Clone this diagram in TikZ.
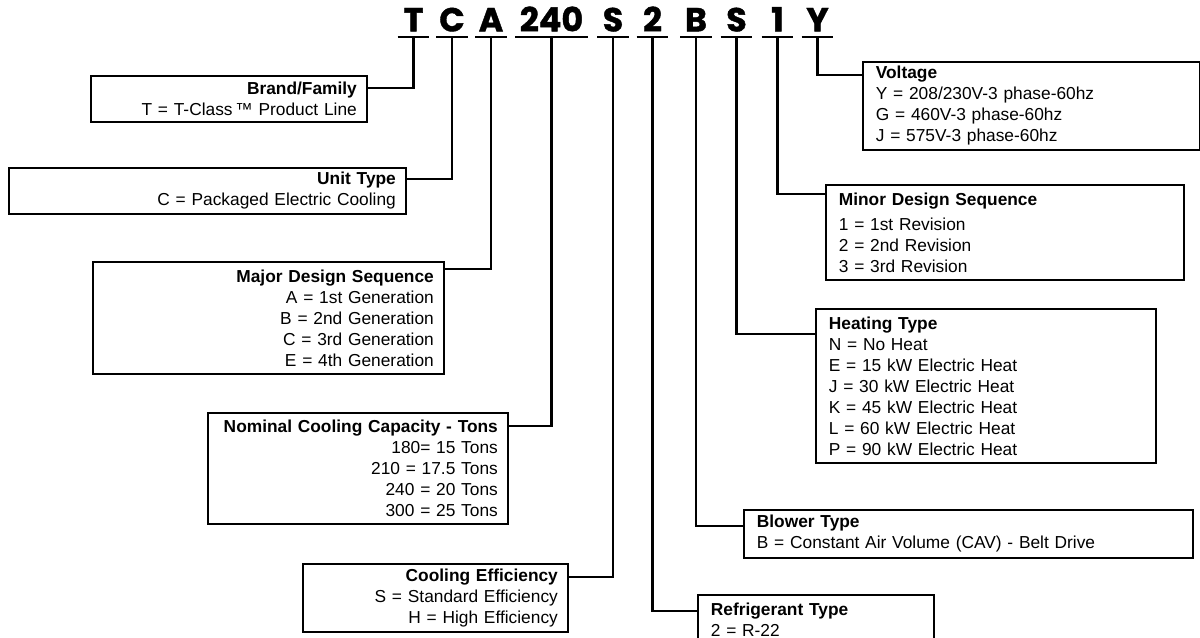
\documentclass[tikz,border=0pt]{standalone}
\usepackage{fontspec}
\setmainfont{Liberation Sans}
\newfontfamily\codefont{Poppins}[BoldFeatures={FakeBold=1.2}]
\begin{document}
\begin{tikzpicture}[x=0.75pt, y=-0.75pt,
    codechar/.style={font=\codefont\bfseries\fontsize{25}{25}\selectfont, anchor=south,
      inner xsep=0pt, inner ysep=4pt, text depth=0pt, minimum width=23.25pt},
    keybox/.style={draw, line width=1.3pt, anchor=north west, inner ysep=1pt,
      font=\fontsize{13}{15.75}\selectfont},
    leftkey/.style={keybox, align=right, inner xsep=7.5pt},
    rightkey/.style={keybox, align=left, inner xsep=9.75pt},
    leader/.style={line width=1.6pt},
    bar/.style={line width=2pt}]
      \useasboundingbox (0,0) rectangle (1200,638);
      % model number
      \node (cT)[codechar] at (413.5,37) {T};
      \node (cC)[codechar] at (452,37) {C};
      \node (cA)[codechar] at (491,37) {A};
      \node (c240)[codechar, minimum width=54pt] at (551.5,37) {240};
      \node (cS)[codechar] at (613,37) {S};
      \node (c2)[codechar] at (652.5,37) {2};
      \node (cB)[codechar] at (696,37) {B};
      \node (cH)[codechar] at (736.5,37) {S};
      \node (c1)[codechar] at (777.5,37) {1};
      \node (cY)[codechar] at (817.5,37) {Y};
      \draw[bar] (cT.south west) -- (cT.south east);
      \draw[bar] (cC.south west) -- (cC.south east);
      \draw[bar] (cA.south west) -- (cA.south east);
      \draw[bar] (c240.south west) -- (c240.south east);
      \draw[bar] (cS.south west) -- (cS.south east);
      \draw[bar] (c2.south west) -- (c2.south east);
      \draw[bar] (cB.south west) -- (cB.south east);
      \draw[bar] (cH.south west) -- (cH.south east);
      \draw[bar] (c1.south west) -- (c1.south east);
      \draw[bar] (cY.south west) -- (cY.south east);
      % left keys
      \node (brand)[leftkey, minimum width=207pt, minimum height=34.5pt, text width=192pt] at (90,75)
        {\textbf{Brand/Family}\\T = T-Class\,\texttrademark\ Product Line};
      \node (unit)[leftkey, minimum width=297.75pt, minimum height=34.5pt, text width=282.75pt] at (8,167)
        {\textbf{Unit Type}\\C = Packaged Electric Cooling};
      \node (major)[leftkey, minimum width=263.25pt, minimum height=84pt, text width=248.25pt] at (92,261)
        {\textbf{Major Design Sequence}\\A = 1st Generation\\B = 2nd Generation\\C = 3rd Generation\\E = 4th Generation};
      \node (tons)[leftkey, minimum width=225pt, minimum height=83.25pt, text width=210pt] at (207,412)
        {\textbf{Nominal Cooling Capacity - Tons}\\180= 15 Tons\\210 = 17.5 Tons\\240 = 20 Tons\\300 = 25 Tons};
      \node (eff)[leftkey, minimum width=198.75pt, minimum height=51pt, text width=183.75pt] at (302,563)
        {\textbf{Cooling Efficiency}\\S = Standard Efficiency\\H = High Efficiency};
      % right keys
      \node (refr)[rightkey, minimum width=177pt, minimum height=36.75pt, text width=157.5pt] at (697,594)
        {\textbf{Refrigerant Type}\\2 = R-22};
      \node (blower)[rightkey, minimum width=336.75pt, minimum height=36pt, text width=317.25pt] at (743,509)
        {\textbf{Blower Type}\\B = Constant Air Volume (CAV) - Belt Drive};
      \node (heat)[rightkey, minimum width=255pt, minimum height=115.5pt, text width=235.5pt] at (815,308)
        {\textbf{Heating Type}\\N = No Heat\\E = 15 kW Electric Heat\\J = 30 kW Electric Heat\\K = 45 kW Electric Heat\\L = 60 kW Electric Heat\\P = 90 kW Electric Heat};
      \node (minor)[rightkey, minimum width=268.5pt, minimum height=71.25pt, text width=249pt] at (825,184)
        {\textbf{Minor Design Sequence}\\[3pt]1 = 1st Revision\\2 = 2nd Revision\\3 = 3rd Revision};
      \node (volt)[rightkey, minimum width=252.75pt, minimum height=66pt, text width=233.25pt] at (862,61)
        {\textbf{Voltage}\\Y = 208/230V-3 phase-60hz\\G = 460V-3 phase-60hz\\J = 575V-3 phase-60hz};
      % leaders
      \draw[leader] (cT.south) |- (brand.east |- 0,88);
      \draw[leader] (cC.south) |- (unit.east |- 0,179);
      \draw[leader] (cA.south) |- (major.east |- 0,269);
      \draw[leader] (c240.south) |- (tons.east |- 0,426);
      \draw[leader] (cS.south) |- (eff.east |- 0,577);
      \draw[leader] (c2.south) |- (refr.west |- 0,611);
      \draw[leader] (cB.south) |- (blower.west |- 0,526);
      \draw[leader] (cH.south) |- (heat.west |- 0,334);
      \draw[leader] (c1.south) |- (minor.west |- 0,194);
      \draw[leader] (cY.south) |- (volt.west |- 0,75);
    \end{tikzpicture}
\end{document}
